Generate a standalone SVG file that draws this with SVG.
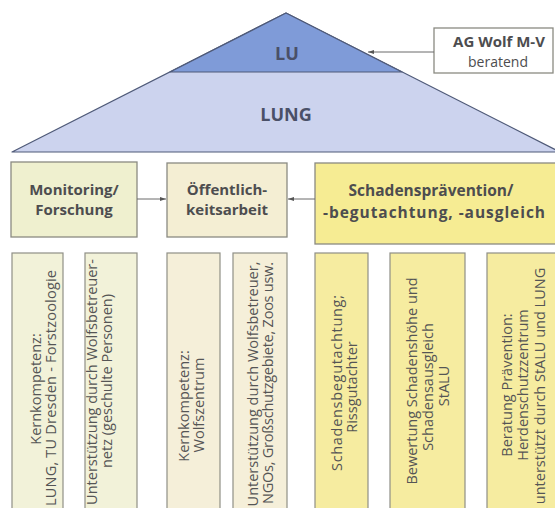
<svg xmlns="http://www.w3.org/2000/svg" width="555" height="508" viewBox="0 0 555 508">
<defs>
<style>
.tri{stroke:#4f5a78;stroke-width:1.2;stroke-linejoin:round}
.box{stroke:#8a8a82;stroke-width:1.3}
.col{stroke:#8f8f86;stroke-width:1.2}
.g1{fill:#eff0cf}
.g2{fill:#f4eed3}
.g3{fill:#f6ec93}
.c1{fill:#f2f2d9}
.c2{fill:#f5efd9}
.c3{fill:#f6eca0}
.tt{font-family:"Open Sans","DejaVu Sans",sans-serif;font-weight:700;font-size:18px;fill:#4a5068;text-anchor:middle}
.bt{font-family:"Open Sans","DejaVu Sans",sans-serif;font-weight:700;font-size:15px;fill:#4d4d4f;text-anchor:middle}
.ct{font-family:"Open Sans","DejaVu Sans",sans-serif;font-size:14.5px;fill:#555;text-anchor:middle}
.ln{stroke:#6a6a6a;stroke-width:1;fill:none}
</style>
<marker id="ah" viewBox="0 0 6 6" refX="6" refY="3" markerWidth="6" markerHeight="6" orient="auto" markerUnits="userSpaceOnUse">
<path d="M0,0.9 L6,3 L0,5.1 z" fill="#555"/>
</marker>
</defs>
<rect width="555" height="508" fill="#ffffff"/>

<g id="LUNG">
<polygon class="tri" points="286,13 12,152 560,152" fill="#ccd3ee"/>
<text class="tt" x="286" y="121">LUNG</text>
</g>
<g id="LU">
<polygon class="tri" points="286,13 170,72 402,72" fill="#7f9bd8"/>
<text class="tt" x="287" y="60">LU</text>
</g>
<g id="AGWolf">
<rect class="box" x="434" y="28" width="119" height="45" fill="#ffffff"/>
<text class="bt" x="499" y="47">AG Wolf M-V</text>
<text class="ct" x="498" y="67" style="fill:#4d4d4f;font-size:14px">beratend</text>
</g>

<g id="Monitoring">
<rect class="box g1" x="11" y="162" width="126" height="75"/>
<text class="bt" x="74" y="195">Monitoring/</text>
<text class="bt" x="74" y="215">Forschung</text>
</g>
<g id="Oeffentlichkeitsarbeit">
<rect class="box g2" x="167" y="163" width="120" height="74"/>
<text class="bt" x="227" y="195">Öffentlich-</text>
<text class="bt" x="227" y="215">keitsarbeit</text>
</g>
<g id="Schadenspraevention">
<rect class="box g3" x="315" y="163" width="245" height="81"/>
<text class="bt" x="431" y="196" style="font-size:15.5px">Schadensprävention/</text>
<text class="bt" x="434" y="218" style="font-size:15.5px" textLength="222">-begutachtung, -ausgleich</text>
</g>

<g id="connectors">
<path class="ln" d="M434,52 L368,52" marker-end="url(#ah)"/>
<path class="ln" d="M137,199 L166,199" marker-end="url(#ah)"/>
<path class="ln" d="M315,199 L288,199" marker-end="url(#ah)"/>
</g>

<g id="col1">
<rect class="col c1" x="12" y="253" width="51" height="270"/>
<text class="ct" transform="translate(41,389) rotate(-90)">Kernkompetenz:</text>
<text class="ct" transform="translate(56,388) rotate(-90)" textLength="236">LUNG, TU Dresden - Forstzoologie</text>
</g>
<g id="col2">
<rect class="col c1" x="85" y="253" width="52" height="270"/>
<text class="ct" transform="translate(97,382) rotate(-90)">Unterstützung durch Wolfsbetreuer-</text>
<text class="ct" transform="translate(112,381) rotate(-90)">netz (geschulte Personen)</text>
</g>
<g id="col3">
<rect class="col c2" x="167" y="253" width="53" height="270"/>
<text class="ct" transform="translate(189,406) rotate(-90)">Kernkompetenz:</text>
<text class="ct" transform="translate(204,405) rotate(-90)">Wolfszentrum</text>
</g>
<g id="col4">
<rect class="col c2" x="233" y="253" width="54" height="270"/>
<text class="ct" transform="translate(258,384) rotate(-90)">Unterstützung durch Wolfsbetreuer,</text>
<text class="ct" transform="translate(273,383) rotate(-90)" textLength="242">NGOs, Großschutzgebiete, Zoos usw.</text>
</g>
<g id="col5">
<rect class="col c3" x="315" y="253" width="53" height="270"/>
<text class="ct" transform="translate(342,383) rotate(-90)" textLength="176">Schadensbegutachtung;</text>
<text class="ct" transform="translate(357,387) rotate(-90)">Rissgutachter</text>
</g>
<g id="col6">
<rect class="col c3" x="390" y="253" width="75" height="270"/>
<text class="ct" transform="translate(417,381) rotate(-90)">Bewertung Schadenshöhe und</text>
<text class="ct" transform="translate(433,387) rotate(-90)">Schadensausgleich</text>
<text class="ct" transform="translate(449,386) rotate(-90)">StALU</text>
</g>
<g id="col7">
<rect class="col c3" x="487" y="253" width="75" height="270"/>
<text class="ct" transform="translate(512,385) rotate(-90)">Beratung Prävention:</text>
<text class="ct" transform="translate(528,385) rotate(-90)">Herdenschutzzentrum</text>
<text class="ct" transform="translate(545,386) rotate(-90)">unterstützt durch StALU und LUNG</text>
</g>
</svg>
